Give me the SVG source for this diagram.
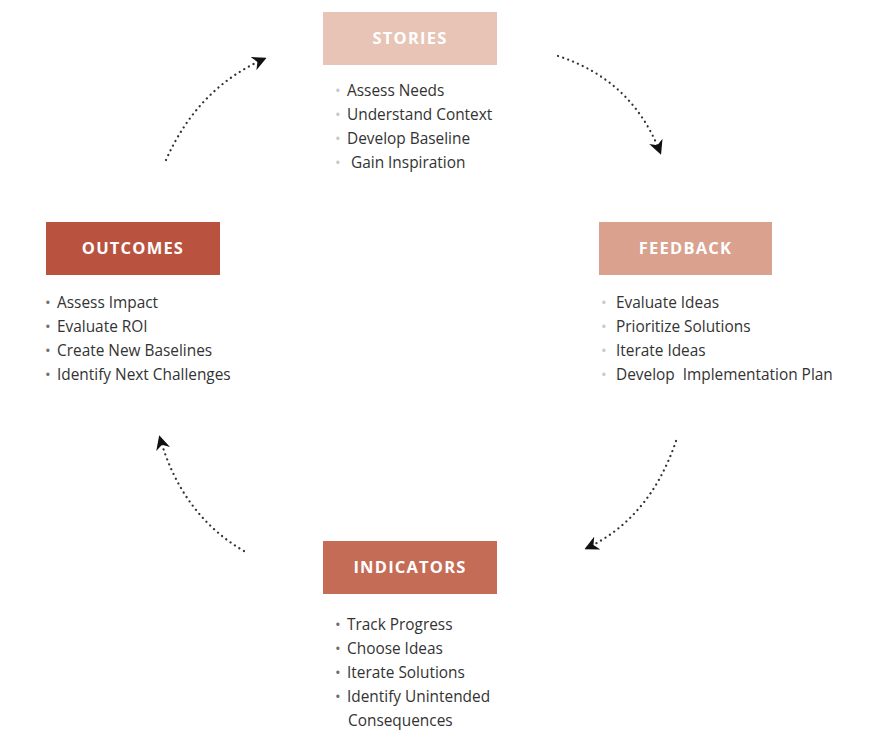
<svg xmlns="http://www.w3.org/2000/svg" width="880" height="740" viewBox="0 0 880 740">
<style>
.hdr{font-family:"Open Sans","Liberation Sans",sans-serif;font-weight:700;font-size:16.5px;fill:#ffffff;text-anchor:middle;letter-spacing:1.2px}
.it{font-family:"Open Sans","Liberation Sans",sans-serif;font-size:15.4px;fill:#333333}
.b{font-family:"Open Sans","Liberation Sans",sans-serif;font-size:15px}
.lt{fill:#c8c8c8}
.dk{fill:#707070}
.con{fill:none;stroke:#333333;stroke-width:2.2;stroke-dasharray:0.1 5.2;stroke-linecap:round}
</style>
<defs>
<marker id="ah" viewBox="0 0 10 10" refX="8" refY="5" markerWidth="6.5" markerHeight="6.5" orient="auto" markerUnits="strokeWidth">
<path d="M0,0 L10,5 L0,10 L3,5 Z" fill="#111111"/>
</marker>
</defs>
<rect width="880" height="740" fill="#ffffff"/>
<g id="connectors">
<path class="con" d="M166,160 Q198,88 264,59" marker-end="url(#ah)"/>
<path class="con" d="M558,56 Q632,80 660,152" marker-end="url(#ah)"/>
<path class="con" d="M676,441 Q650,518 587,548" marker-end="url(#ah)"/>
<path class="con" d="M244,551 Q182,515 160,438" marker-end="url(#ah)"/>
</g>
<g id="stories">
<rect x="323" y="12" width="174" height="53" fill="#e8c4b6"/>
<text class="hdr" x="410" y="44">STORIES</text>
<text class="b lt" x="335" y="96">•</text><text class="it" x="347" y="96">Assess Needs</text>
<text class="b lt" x="335" y="120">•</text><text class="it" x="347" y="120">Understand Context</text>
<text class="b lt" x="335" y="144">•</text><text class="it" x="347" y="144">Develop Baseline</text>
<text class="b lt" x="335" y="168">•</text><text class="it" x="351" y="168">Gain Inspiration</text>
</g>
<g id="feedback">
<rect x="599" y="222" width="173" height="53" fill="#d9a18e"/>
<text class="hdr" x="685.5" y="254">FEEDBACK</text>
<text class="b lt" x="601" y="308">•</text><text class="it" x="616" y="308">Evaluate Ideas</text>
<text class="b lt" x="601" y="332">•</text><text class="it" x="616" y="332">Prioritize Solutions</text>
<text class="b lt" x="601" y="356">•</text><text class="it" x="616" y="356">Iterate Ideas</text>
<text class="b lt" x="601" y="380">•</text><text class="it" x="616" y="380" xml:space="preserve">Develop  Implementation Plan</text>
</g>
<g id="outcomes">
<rect x="46" y="222" width="174" height="53" fill="#b9533f"/>
<text class="hdr" x="133" y="254">OUTCOMES</text>
<text class="b dk" x="45" y="308">•</text><text class="it" x="57" y="308">Assess Impact</text>
<text class="b dk" x="45" y="332">•</text><text class="it" x="57" y="332">Evaluate ROI</text>
<text class="b dk" x="45" y="356">•</text><text class="it" x="57" y="356">Create New Baselines</text>
<text class="b dk" x="45" y="380">•</text><text class="it" x="57" y="380">Identify Next Challenges</text>
</g>
<g id="indicators">
<rect x="323" y="541" width="174" height="53" fill="#c56c56"/>
<text class="hdr" x="410" y="573">INDICATORS</text>
<text class="b dk" x="335" y="630">•</text><text class="it" x="347" y="630">Track Progress</text>
<text class="b dk" x="335" y="654">•</text><text class="it" x="347" y="654">Choose Ideas</text>
<text class="b dk" x="335" y="678">•</text><text class="it" x="347" y="678">Iterate Solutions</text>
<text class="b dk" x="335" y="702">•</text><text class="it" x="347" y="702">Identify Unintended</text>
<text class="it" x="348" y="726">Consequences</text>
</g>
</svg>
